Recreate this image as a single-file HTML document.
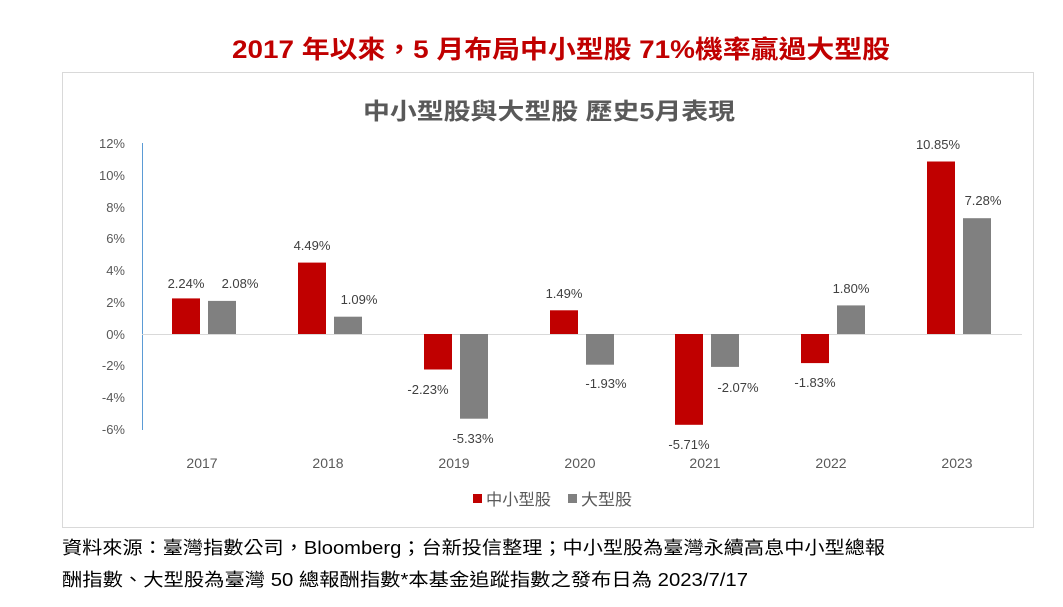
<!DOCTYPE html>
<html><head><meta charset="utf-8"><style>
body{margin:0;background:#fff;width:1063px;height:602px;overflow:hidden;font-family:"Liberation Sans","Noto Sans CJK TC",sans-serif;}
</style></head><body>
<svg width="1063" height="602" xmlns="http://www.w3.org/2000/svg" font-family="Liberation Sans, Noto Sans CJK TC, sans-serif">
<text x="232" y="58" font-size="25" font-weight="bold" fill="#C00000" textLength="658" lengthAdjust="spacingAndGlyphs">2017 年以來，5 月布局中小型股 71%機率贏過大型股</text>
<rect x="62.5" y="72.5" width="971" height="455" fill="#fff" stroke="#d9d9d9"/>
<text x="363" y="119" font-size="23" font-weight="bold" fill="#595959" textLength="372" lengthAdjust="spacingAndGlyphs">中小型股與大型股  歷史5月表現</text>
<g font-size="13" fill="#595959" text-anchor="end">
<text x="125" y="148">12%</text><text x="125" y="180">10%</text><text x="125" y="212">8%</text><text x="125" y="243">6%</text><text x="125" y="275">4%</text><text x="125" y="307">2%</text><text x="125" y="339">0%</text><text x="125" y="370">-2%</text><text x="125" y="402">-4%</text><text x="125" y="434">-6%</text>
</g>
<line x1="142.5" y1="143" x2="142.5" y2="430" stroke="#5b9bd5" stroke-width="1"/>
<line x1="142" y1="334.5" x2="1022" y2="334.5" stroke="#d9d9d9"/>
<g fill="#C00000">
<rect x="172" y="298.4" width="28" height="35.6"/>
<rect x="298" y="262.6" width="28" height="71.4"/>
<rect x="424" y="334" width="28" height="35.5"/>
<rect x="550" y="310.3" width="28" height="23.7"/>
<rect x="675" y="334" width="28" height="90.8"/>
<rect x="801" y="334" width="28" height="29.1"/>
<rect x="927" y="161.5" width="28" height="172.5"/>
</g>
<g fill="#808080">
<rect x="208" y="300.9" width="28" height="33.1"/>
<rect x="334" y="316.7" width="28" height="17.3"/>
<rect x="460" y="334" width="28" height="84.7"/>
<rect x="586" y="334" width="28" height="30.7"/>
<rect x="711" y="334" width="28" height="32.9"/>
<rect x="837" y="305.4" width="28" height="28.6"/>
<rect x="963" y="218.2" width="28" height="115.8"/>
</g>
<g font-size="13" fill="#404040" text-anchor="middle">
<text x="186" y="288">2.24%</text><text x="240" y="288">2.08%</text>
<text x="312" y="250">4.49%</text><text x="359" y="304">1.09%</text>
<text x="428" y="394">-2.23%</text><text x="473" y="443">-5.33%</text>
<text x="564" y="298">1.49%</text><text x="606" y="388">-1.93%</text>
<text x="689" y="449">-5.71%</text><text x="738" y="392">-2.07%</text>
<text x="815" y="387">-1.83%</text><text x="851" y="293">1.80%</text>
<text x="938" y="149">10.85%</text><text x="983" y="205">7.28%</text>
</g>
<g font-size="14" fill="#595959" text-anchor="middle">
<text x="202" y="468">2017</text><text x="328" y="468">2018</text><text x="454" y="468">2019</text><text x="580" y="468">2020</text><text x="705" y="468">2021</text><text x="831" y="468">2022</text><text x="957" y="468">2023</text>
</g>
<rect x="473" y="494" width="9" height="9" fill="#C00000"/>
<text x="486" y="505" font-size="16" fill="#595959" textLength="65" lengthAdjust="spacingAndGlyphs">中小型股</text>
<rect x="568" y="494" width="9" height="9" fill="#808080"/>
<text x="581" y="505" font-size="16" fill="#595959" textLength="51" lengthAdjust="spacingAndGlyphs">大型股</text>
<text x="62" y="554" font-size="18" fill="#000" textLength="823" lengthAdjust="spacingAndGlyphs">資料來源：臺灣指數公司，Bloomberg；台新投信整理；中小型股為臺灣永續高息中小型總報</text>
<text x="62" y="586" font-size="18" fill="#000" textLength="686" lengthAdjust="spacingAndGlyphs">酬指數、大型股為臺灣 50 總報酬指數*本基金追蹤指數之發布日為 2023/7/17</text>
</svg>
</body></html>
